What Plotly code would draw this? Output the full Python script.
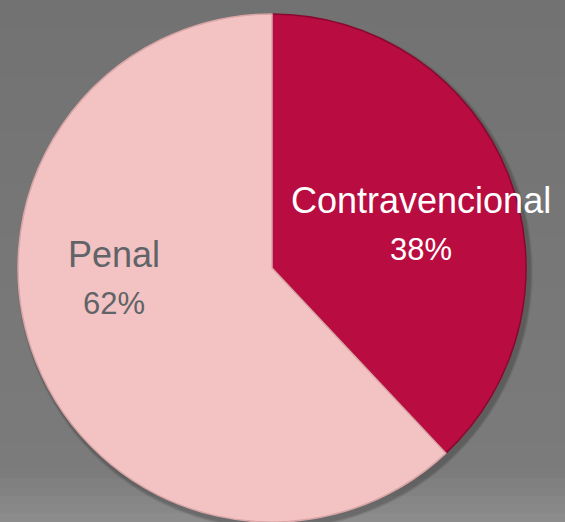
import plotly.graph_objects as go

# Share of cases by type
categories = ["Contravencional", "Penal"]
values = [38, 62]
slice_colors = ["#b90c40", "#f3c3c3"]
edge_colors = ["#8a0830", "#d9a5a5"]
label_colors = ["#ffffff", "#606468"]

W, H = 565, 522
total = sum(values)

fig = go.Figure()

fig.add_trace(go.Pie(
    labels=categories,
    values=values,
    sort=False,
    direction="clockwise",
    rotation=0,
    textinfo="none",
    hoverinfo="label+percent",
    marker=dict(colors=slice_colors, line=dict(color=edge_colors, width=1.5)),
    domain=dict(x=[0.0, 0.963], y=[0.0, 0.9732]),
    showlegend=False,
))

# Background: vertical grey gradient, lighter toward the bottom
shapes = []
n_bands = 60
for i in range(n_bands):
    y0 = i / n_bands
    y1 = (i + 1) / n_bands
    t = 1 - (y0 + y1) / 2  # 0 at top, 1 at bottom
    if t < 0.9:
        g = 114 + (t / 0.9) * 9
    else:
        g = 123 + (t - 0.9) / 0.1 * 18
    g = int(round(g))
    shapes.append(dict(
        type="rect", xref="paper", yref="paper",
        x0=0, x1=1, y0=y0, y1=y1 + 0.002,
        fillcolor=f"rgb({g},{g},{g})", line=dict(width=0), layer="below",
    ))

# Soft drop shadow behind the pie
cx, cy, r = 272, 268, 254
for k, alpha in [(8, 0.06), (6, 0.08), (4, 0.10)]:
    shapes.append(dict(
        type="circle", xref="paper", yref="paper",
        x0=(cx - r + 3 - k / 2) / W, x1=(cx + r + 3 + k / 2) / W,
        y0=1 - (cy + r + 4 + k / 2) / H, y1=1 - (cy - r + 4 - k / 2) / H,
        fillcolor=f"rgba(0,0,0,{alpha})", line=dict(width=0), layer="below",
    ))

# Slice labels with their percentages
label_pos = [(421, 223), (114, 277)]
annotations = []
for name, v, col, (px, py) in zip(categories, values, label_colors, label_pos):
    pct = round(100 * v / total)
    annotations.append(dict(
        x=px / W, y=1 - py / H, xref="paper", yref="paper",
        xanchor="center", yanchor="middle",
        text=f"{name}<br><span style='font-size:31px'>{pct}%</span>",
        showarrow=False, align="center",
        font=dict(family="Liberation Sans, Arial, sans-serif", size=36, color=col),
    ))

fig.update_layout(
    width=W, height=H,
    margin=dict(l=0, r=0, t=0, b=0),
    paper_bgcolor="#727272",
    plot_bgcolor="#727272",
    shapes=shapes,
    annotations=annotations,
)

fig.write_html("out.html")
